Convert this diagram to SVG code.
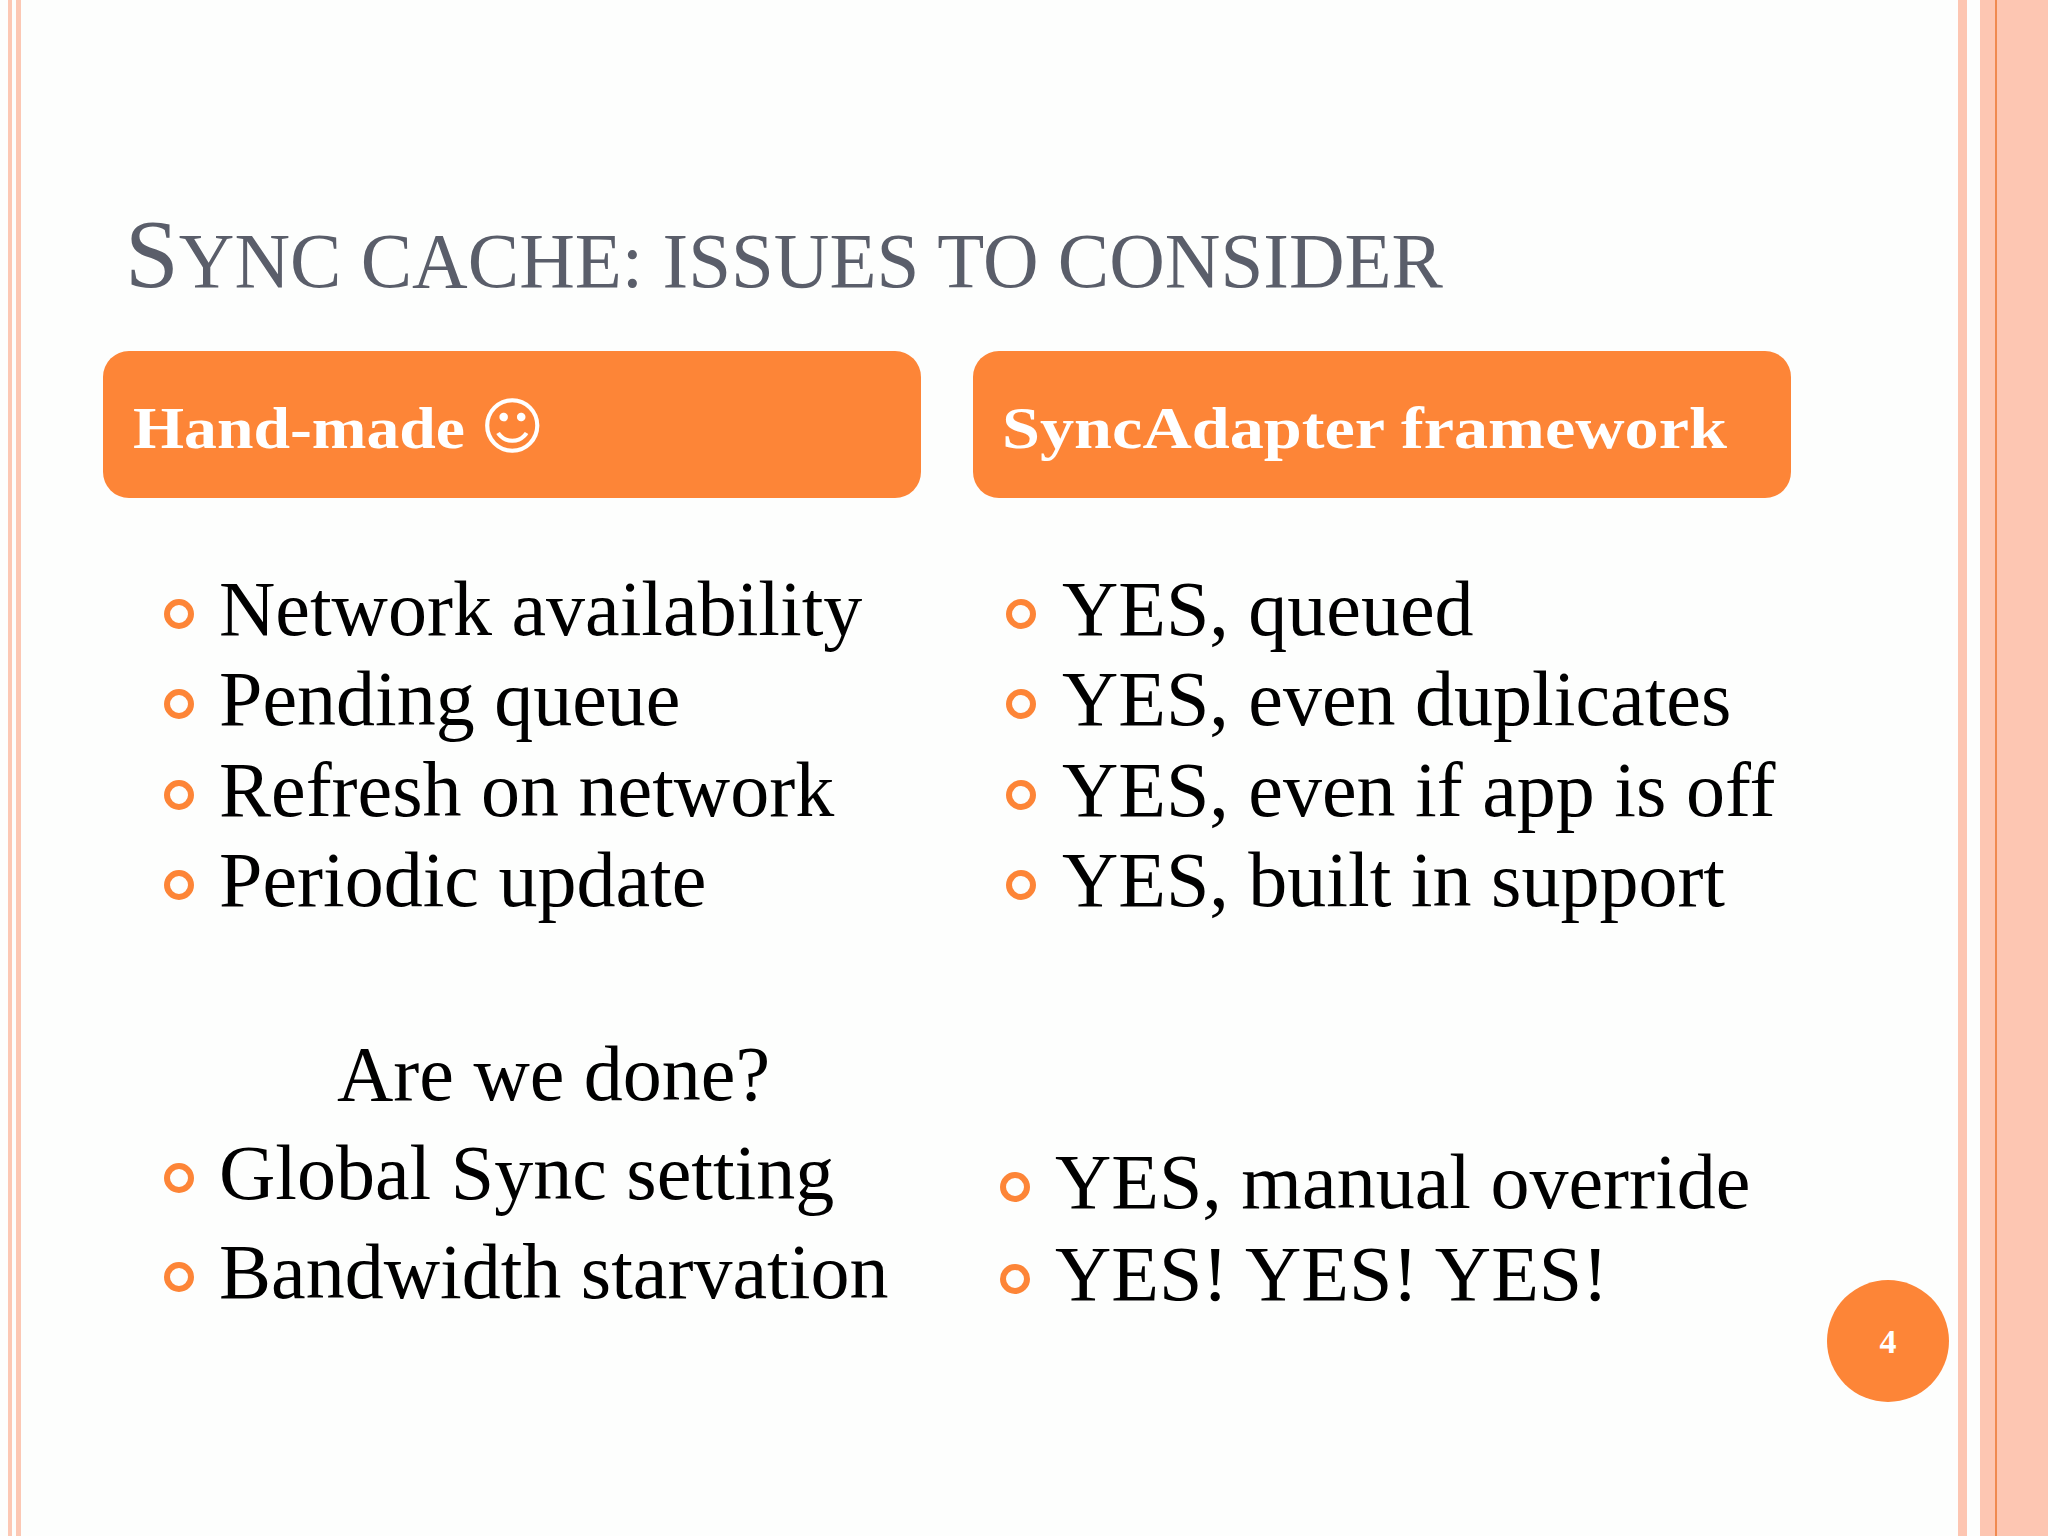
<svg xmlns="http://www.w3.org/2000/svg" width="2048" height="1536" viewBox="0 0 2048 1536">
<style>
.b{font-family:"Liberation Serif",serif;font-size:78px;fill:#000}
.h{font-family:"Liberation Serif",serif;font-size:60px;font-weight:bold;fill:#fff}
.d{fill:none;stroke:#fd8537;stroke-width:6}
.box{fill:#fd8537}
</style>
<rect width="2048" height="1536" fill="#fdfefd"/>
<rect x="8" y="0" width="4" height="1536" fill="#fcc8b4"/>
<rect x="16" y="0" width="5" height="1536" fill="#fcc8b4"/>
<rect x="1958" y="0" width="9" height="1536" fill="#fdc6b2"/>
<rect x="1980" y="0" width="68" height="1536" fill="#fdc6b2"/>
<rect x="1995" y="0" width="2" height="1536" fill="#f08a50"/>
<text x="125" y="287" font-family="Liberation Serif,serif" fill="#5a5e6a" font-size="78" textLength="1318" lengthAdjust="spacingAndGlyphs"><tspan font-size="98">S</tspan>YNC CACHE: ISSUES TO CONSIDER</text>
<g id="hdr-left"><rect class="box" x="103" y="351" width="818" height="147" rx="26"/><text class="h" x="133" y="448"><tspan textLength="332" lengthAdjust="spacingAndGlyphs">Hand-made</tspan> <tspan font-family="DejaVu Sans,sans-serif" font-size="62" font-weight="normal">☺</tspan></text></g>
<g id="hdr-right"><rect class="box" x="973" y="351" width="818" height="147" rx="26"/><text class="h" x="1002" y="448" textLength="725" lengthAdjust="spacingAndGlyphs">SyncAdapter framework</text></g>
<g id="left-list">
<circle class="d" cx="179" cy="614" r="12"/><text class="b" x="219" y="635">Network availability</text>
<circle class="d" cx="179" cy="704" r="12"/><text class="b" x="219" y="725">Pending queue</text>
<circle class="d" cx="179" cy="795" r="12"/><text class="b" x="219" y="816">Refresh on network</text>
<circle class="d" cx="179" cy="885" r="12"/><text class="b" x="219" y="906">Periodic update</text>
<text class="b" x="337" y="1100">Are we done?</text>
<circle class="d" cx="179" cy="1178" r="12"/><text class="b" x="219" y="1199">Global Sync setting</text>
<circle class="d" cx="179" cy="1277" r="12"/><text class="b" x="219" y="1298">Bandwidth starvation</text>
</g>
<g id="right-list">
<circle class="d" cx="1021" cy="614" r="12"/><text class="b" x="1062" y="635">YES, queued</text>
<circle class="d" cx="1021" cy="704" r="12"/><text class="b" x="1062" y="725">YES, even duplicates</text>
<circle class="d" cx="1021" cy="795" r="12"/><text class="b" x="1062" y="816">YES, even if app is off</text>
<circle class="d" cx="1021" cy="885" r="12"/><text class="b" x="1062" y="906">YES, built in support</text>
<circle class="d" cx="1015" cy="1187" r="12"/><text class="b" x="1055" y="1208">YES, manual override</text>
<circle class="d" cx="1015" cy="1279" r="12"/><text class="b" x="1055" y="1300">YES! YES! YES!</text>
</g>
<g id="page"><circle cx="1888" cy="1341" r="61" fill="#fd8537"/><text x="1888" y="1353" text-anchor="middle" font-family="Liberation Serif,serif" font-weight="bold" font-size="34" fill="#fff">4</text></g>
</svg>
